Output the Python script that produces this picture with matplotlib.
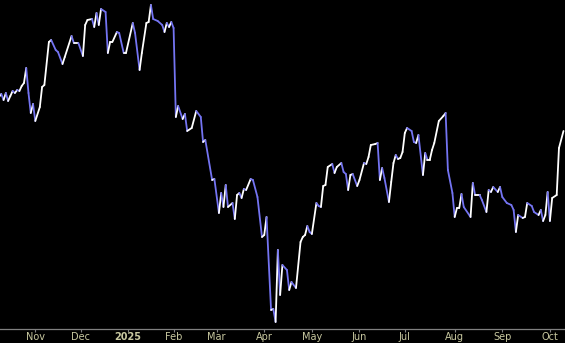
import matplotlib
matplotlib.use("Agg")
import matplotlib.pyplot as plt
import numpy as np
import pandas as pd
from matplotlib.collections import LineCollection

# trading calendar for the window shown (NYSE closures)
first_day = "2024-10-10"
last_day = "2025-10-09"
holidays = ["2024-11-28", "2024-12-25", "2025-01-01", "2025-01-09", "2025-01-20",
            "2025-02-17", "2025-04-18", "2025-05-26", "2025-06-19", "2025-07-04",
            "2025-09-01"]

# session number (0 = first_day) and close
session = [0, 1, 2, 3, 4, 5, 6, 7, 8, 9, 10, 11, 12, 13, 14, 15, 16, 18, 19, 20,
           22, 23, 25, 26, 28, 29, 32, 33, 35, 37, 38, 39, 41, 42, 43, 44, 45, 47, 48, 49,
           50, 52, 53, 55, 56, 59, 60, 62, 63, 65, 66, 67, 68, 70, 72, 73, 74, 75, 76, 77,
           78, 79, 81, 82, 83, 85, 87, 89, 90, 91, 94, 95, 97, 98, 99, 100, 101, 103, 104, 105,
           106, 107, 108, 109, 111, 112, 114, 116, 117, 118, 120, 121, 122, 123, 124, 125, 127, 128, 129, 131,
           133, 134, 135, 136, 137, 138, 140, 141, 142, 143, 144, 145, 147, 148, 149, 151, 152, 153, 154, 155,
           156, 158, 159, 161, 162, 163, 164, 166, 167, 168, 169, 170, 172, 173, 174, 175, 176, 177, 178, 179,
           180, 182, 183, 184, 185, 187, 188, 189, 190, 191, 192, 194, 196, 197, 198, 200, 201, 202, 203, 204,
           205, 208, 209, 210, 212, 213, 215, 216, 217, 218, 220, 221, 222, 224, 226, 227, 228, 229, 231, 232,
           233, 235, 236, 238, 239, 240, 241, 242, 243, 244, 246, 247, 249]
close = [146.6, 147.2, 146.0, 147.4, 145.8, 146.8, 147.8, 147.4, 148.0, 147.8, 148.8, 149.4, 152.4, 147.4, 143.4, 145.2, 141.8, 144.6, 148.6, 149.0,
         157.6, 158.0, 156.0, 155.6, 153.2, 154.6, 158.8, 157.4, 157.4, 154.8, 161.0, 162.0, 162.2, 160.6, 163.4, 161.0, 164.2, 163.6, 155.4, 157.6,
         157.6, 159.6, 159.4, 155.4, 155.4, 161.4, 159.4, 152.0, 155.4, 161.4, 161.6, 165.0, 162.2, 161.8, 161.0, 159.6, 161.4, 160.6, 161.6, 160.4,
         142.6, 144.8, 142.2, 143.2, 139.8, 140.4, 143.8, 142.6, 137.6, 138.0, 130.0, 130.2, 123.4, 127.4, 124.6, 129.0, 124.6, 125.4, 122.2, 127.0,
         127.4, 126.4, 128.2, 128.0, 130.2, 130.0, 126.6, 118.6, 119.0, 122.6, 104.0, 104.2, 101.6, 116.0, 107.0, 113.0, 112.0, 108.0, 109.6, 108.4,
         117.6, 118.6, 119.0, 120.8, 119.6, 119.2, 125.4, 124.8, 124.6, 128.8, 129.0, 132.6, 133.2, 131.4, 132.6, 133.4, 131.6, 131.2, 128.0, 131.0,
         131.2, 128.8, 130.0, 133.4, 133.2, 134.6, 137.0, 137.2, 137.4, 130.0, 132.4, 130.4, 125.6, 129.6, 133.4, 135.0, 134.2, 134.4, 135.6, 139.4,
         140.4, 139.8, 137.6, 137.4, 139.0, 131.0, 135.4, 134.0, 134.0, 136.0, 137.4, 141.8, 142.8, 143.4, 132.0, 127.4, 122.6, 124.4, 124.4, 127.2,
         124.6, 122.6, 129.4, 127.0, 127.0, 126.0, 123.6, 128.0, 127.6, 128.6, 127.6, 128.6, 126.6, 125.4, 125.0, 124.0, 119.6, 123.0, 122.4, 122.6,
         125.4, 124.8, 123.6, 123.0, 124.0, 121.8, 123.0, 127.6, 121.8, 126.4, 127.0, 136.4, 139.8]

UP_COLOR = "#ffffff"
DOWN_COLOR = "#7474f2"
LABEL_COLOR = "#c8c8a0"

days = pd.bdate_range(first_day, last_day, freq="C", holidays=holidays)
x = np.array(session, dtype=float)
y = np.array(close)

fig = plt.figure(figsize=(5.65, 3.43), dpi=100, facecolor="black")
ax = fig.add_axes([0, 14 / 343, 1, 329 / 343], facecolor="black")

pts = np.column_stack([x, y])
segs = np.stack([pts[:-1], pts[1:]], axis=1)
cols = [UP_COLOR if b >= a else DOWN_COLOR for a, b in zip(y[:-1], y[1:])]
ax.add_collection(LineCollection(segs, colors=cols, linewidths=1.3, capstyle="round", joinstyle="round"))

ax.set_xlim(0.43, 249.66)
ax.set_ylim(100.2, 166)

# a tick at the first session of each month, the year in place of January
month_pos = [i for i in range(1, len(days)) if days[i].month != days[i - 1].month]
ax.set_xticks(month_pos)
ax.set_xticklabels([str(days[i].year) if days[i].month == 1 else days[i].strftime("%b") for i in month_pos])
for i, lab in zip(month_pos, ax.get_xticklabels()):
    if days[i].month == 1:
        lab.set_fontweight("bold")
ax.tick_params(axis="x", colors="#808080", labelcolor=LABEL_COLOR, labelsize=7, length=2, width=0.8, pad=0.5)
ax.set_yticks([])

for side in ["top", "left", "right"]:
    ax.spines[side].set_visible(False)
ax.spines["bottom"].set_color("#808080")
ax.spines["bottom"].set_linewidth(0.9)

fig.savefig("out.png", dpi=100, facecolor="black")
